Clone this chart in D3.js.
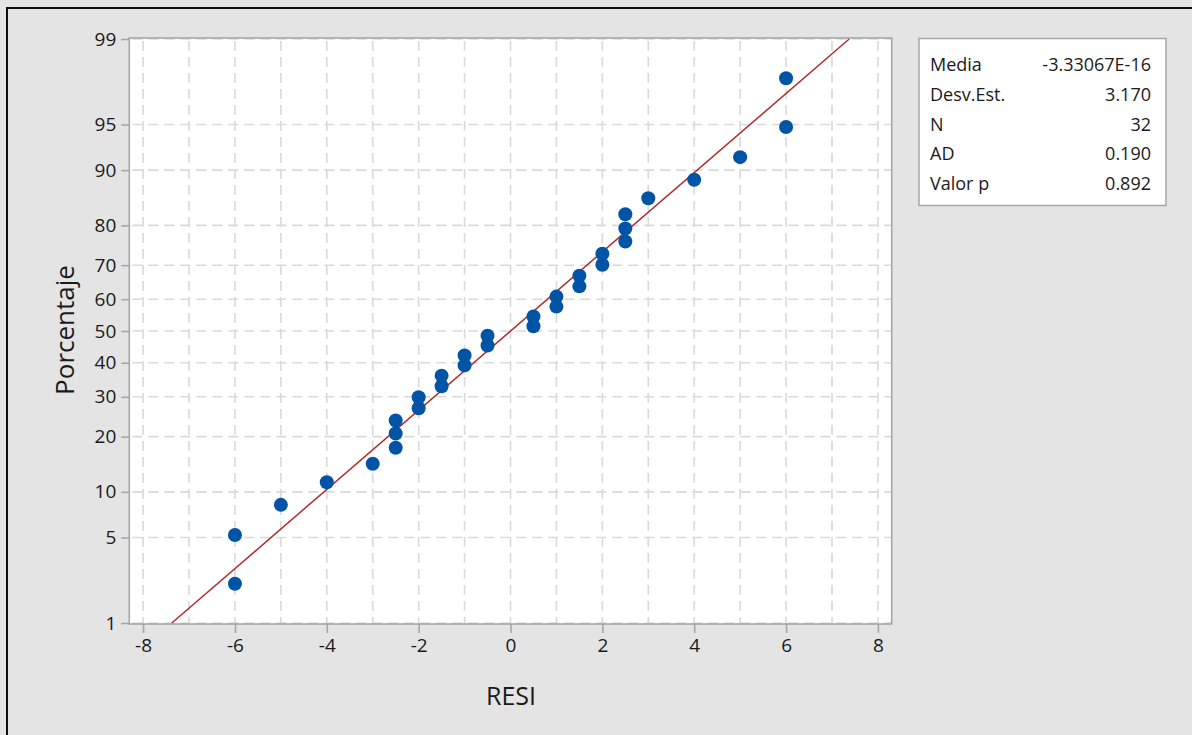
<!DOCTYPE html>
<html><head><meta charset="utf-8">
<script src="https://cdn.jsdelivr.net/npm/d3@7"></script>
<style>
html,body{margin:0;padding:0;background:#e4e4e4;}
svg{display:block;font-family:"Open Sans","Noto Sans",sans-serif;}
</style></head>
<body>
<script>
// Residuals (sorted) and their plotting positions (percent)
const residuals = [-6,-6,-5,-4,-3,-2.5,-2.5,-2.5,-2,-2,-1.5,-1.5,-1,-1,-0.5,-0.5,0.5,0.5,1,1,1.5,1.5,2,2,2.5,2.5,2.5,3,4,5,6,6];
const percents = [2.2,5.2,8.3,11.4,14.5,17.6,20.7,23.8,26.9,29.9,33.0,36.1,39.2,42.3,45.4,48.5,51.5,54.6,57.7,60.8,63.9,67.0,70.1,73.1,76.2,79.3,82.4,85.5,88.6,91.7,94.8,97.8];
const xTicks = [-8,-6,-4,-2,0,2,4,6,8];
const xGrid = [-8,-7,-6,-5,-4,-3,-2,-1,0,1,2,3,4,5,6,7,8];
const yTicks = [1,5,10,20,30,40,50,60,70,80,90,95,99];
const statLabels = ["Media","Desv.Est.","N","AD","Valor p"];
const statValues = ["-3.33067E-16","3.170","32","0.190","0.892"];
const fitMean = 0, fitSd = 3.170;
const fitRange = [1, 99];

// inverse normal CDF (Acklam)
function probit(p){
  const a=[-3.969683028665376e+01,2.209460984245205e+02,-2.759285104469687e+02,1.383577518672690e+02,-3.066479806614716e+01,2.506628277459239e+00];
  const b=[-5.447609879822406e+01,1.615858368580409e+02,-1.556989798598866e+02,6.680131188771972e+01,-1.328068155288572e+01];
  const c=[-7.784894002430293e-03,-3.223964580411365e-01,-2.400758277161838e+00,-2.549732539343734e+00,4.374664141464968e+00,2.938163982698783e+00];
  const d=[7.784695709041462e-03,3.224671290700398e-01,2.445134137142996e+00,3.754408661907416e+00];
  const pl=0.02425;
  let q,r;
  if(p<pl){q=Math.sqrt(-2*Math.log(p));return (((((c[0]*q+c[1])*q+c[2])*q+c[3])*q+c[4])*q+c[5])/((((d[0]*q+d[1])*q+d[2])*q+d[3])*q+1);}
  if(p>1-pl){q=Math.sqrt(-2*Math.log(1-p));return -(((((c[0]*q+c[1])*q+c[2])*q+c[3])*q+c[4])*q+c[5])/((((d[0]*q+d[1])*q+d[2])*q+d[3])*q+1);}
  q=p-0.5;r=q*q;
  return (((((a[0]*r+a[1])*r+a[2])*r+a[3])*r+a[4])*r+a[5])*q/(((((b[0]*r+b[1])*r+b[2])*r+b[3])*r+b[4])*r+1);
}

const W=1192,H=735;
const TXT="#1a1a1a";
const svg=d3.select("body").append("svg").attr("width",W).attr("height",H);
svg.append("rect").attr("width",W).attr("height",H).attr("fill","#e4e4e4");
// outer border (top/left)
svg.append("line").attr("x1",6).attr("x2",W).attr("y1",8).attr("y2",8).attr("stroke","#111").attr("stroke-width",2);
svg.append("line").attr("x1",7).attr("x2",7).attr("y1",7).attr("y2",H).attr("stroke","#111").attr("stroke-width",2);

const L=129.3,R=891.7,T=38,B=624;
const x=d3.scaleLinear().domain([-8.3,8.3]).range([L,R]);
const zTop=probit(0.99)+1/125.6;
const yz=d3.scaleLinear().domain([-zTop,zTop]).range([B,T]);
const y=p=>yz(probit(p/100));

svg.append("rect").attr("x",L).attr("y",T).attr("width",R-L).attr("height",B-T).attr("fill","#fff");

const g=svg.append("g");
// grid
g.selectAll(".vg").data(xGrid).join("line")
 .attr("x1",d=>x(d)).attr("x2",d=>x(d)).attr("y1",T).attr("y2",B)
 .attr("stroke","#d9d9d9").attr("stroke-width",1.6).attr("stroke-dasharray","10,6").attr("stroke-dashoffset",-3);
g.selectAll(".hg").data(yTicks).join("line")
 .attr("x1",L).attr("x2",R).attr("y1",d=>y(d)).attr("y2",d=>y(d))
 .attr("stroke","#d9d9d9").attr("stroke-width",1.6).attr("stroke-dasharray","10,6").attr("stroke-dashoffset",-3);

// frame
svg.append("rect").attr("x",L).attr("y",T).attr("width",R-L).attr("height",B-T)
 .attr("fill","none").attr("stroke","#a6a6a6").attr("stroke-width",1.6);

// axes
const xAxis=d3.axisBottom(x).tickValues(xTicks).tickSize(9).tickPadding(6).tickFormat(d=>String(d));
const xa=svg.append("g").attr("transform",`translate(0,${B})`).call(xAxis);
xa.select(".domain").remove();
xa.selectAll("line").attr("stroke","#a6a6a6").attr("stroke-width",1.6);
xa.selectAll("text").attr("fill",TXT).style("font-size","19px").style("font-weight","500").style("font-family","'Open Sans',sans-serif");

const yAxis=d3.axisLeft(yz).tickValues(yTicks.map(p=>probit(p/100))).tickSize(8).tickPadding(5)
 .tickFormat((d,i)=>yTicks[i]);
const ya=svg.append("g").attr("transform",`translate(${L},0)`).call(yAxis);
ya.select(".domain").remove();
ya.selectAll("line").attr("stroke","#a6a6a6").attr("stroke-width",1.6);
ya.selectAll("text").attr("fill",TXT).style("font-size","19px").style("font-weight","500").style("font-family","'Open Sans',sans-serif");

// fit line
const line=d3.line().x(d=>x(fitMean+fitSd*probit(d/100))).y(d=>y(d));
svg.append("path").datum(fitRange).attr("d",line).attr("fill","none").attr("stroke","#b02c2c").attr("stroke-width",1.5);

// points
svg.selectAll(".pt").data(residuals).join("circle")
 .attr("cx",d=>x(d)).attr("cy",(d,i)=>y(percents[i])).attr("r",7).attr("fill","#0054a6");

// axis titles
svg.append("text").attr("x",511).attr("y",705).attr("text-anchor","middle")
 .style("font-size","25px").style("font-weight","500").attr("fill",TXT).text("RESI");
svg.append("text").attr("transform","translate(74,330) rotate(-90)").attr("text-anchor","middle")
 .style("font-size","26px").style("font-weight","500").attr("fill",TXT).text("Porcentaje");

// stats box
svg.append("rect").attr("x",919).attr("y",38.5).attr("width",247).attr("height",167)
 .attr("fill","#fff").attr("stroke","#a6a6a6").attr("stroke-width",1.5);
const sy=d3.scalePoint().domain(statLabels).range([71,190]);
svg.selectAll(".sl").data(statLabels).join("text").attr("x",930).attr("y",d=>sy(d))
 .style("font-size","18px").style("font-weight","500").attr("fill",TXT).text(d=>d);
svg.selectAll(".sv").data(statValues).join("text").attr("x",1151).attr("y",(d,i)=>sy(statLabels[i]))
 .attr("text-anchor","end").style("font-size","18px").style("font-weight","500").attr("fill",TXT).text(d=>d);
</script>
</body></html>
